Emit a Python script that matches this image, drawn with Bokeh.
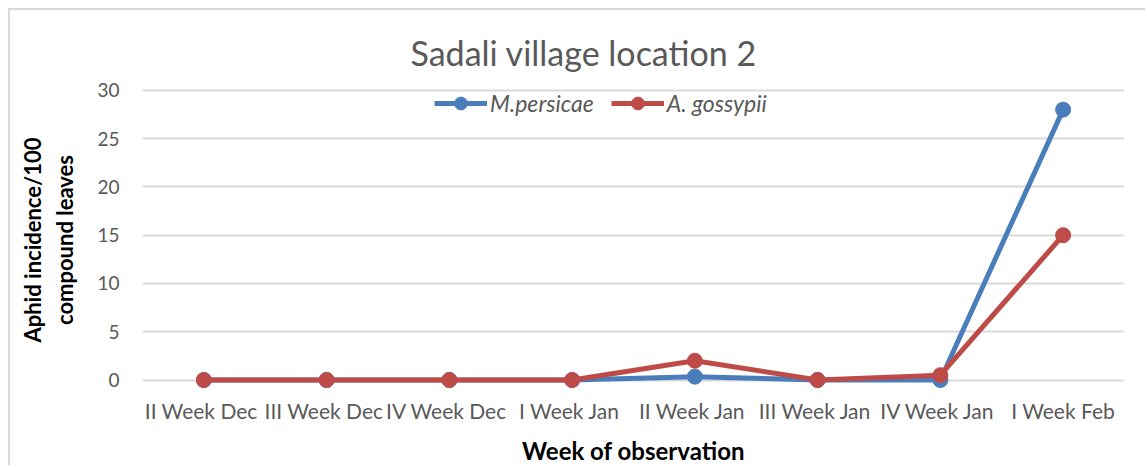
from bokeh.plotting import figure
from bokeh.models import Range1d, FixedTicker, Legend, LegendItem
from bokeh.embed import file_html
from bokeh.resources import INLINE

weeks = ["II  Week Dec", "III  Week Dec", "IV  Week Dec", "I  Week Jan",
         "II  Week Jan", "III  Week Jan", "IV  Week Jan", "I Week Feb"]
m_persicae = [0, 0, 0, 0, 0.35, 0, 0, 28]
a_gossypii = [0, 0, 0, 0, 2, 0, 0.5, 15]
y_ticks = [0, 5, 10, 15, 20, 25, 30]

FONT = "Lato"
GREY = "#595959"
BLUE = "#4a7ebb"
RED = "#be4b48"

p = figure(width=1137, height=457, x_range=weeks, y_range=Range1d(-1.5, 30.5),
           output_backend="svg", toolbar_location=None,
           min_border_left=132, min_border_right=23, min_border_top=75,
           min_border_bottom=72)
p.styles = {"margin": "8px 0 0 8px",
            "border-left": "2px solid #d9d9d9",
            "border-top": "2px solid #d9d9d9"}
p.outline_line_color = None
p.background_fill_color = "white"
p.border_fill_color = "white"

p.title.text = "Sadali village location 2"
p.title.align = "left"
p.title.offset = 268
p.title.standoff = 26
p.title.text_font = FONT
p.title.text_font_style = "normal"
p.title.text_font_size = "34px"
p.title.text_color = GREY

p.yaxis.ticker = FixedTicker(ticks=y_ticks)
p.yaxis.axis_line_color = None
p.yaxis.major_tick_line_color = None
p.yaxis.major_tick_out = 0
p.yaxis.minor_tick_line_color = None
p.yaxis.major_label_text_font = FONT
p.yaxis.major_label_text_font_size = "19px"
p.yaxis.major_label_text_color = GREY
p.yaxis.major_label_standoff = 23
p.yaxis.axis_label = "Aphid incidence/100\ncompound leaves"
p.yaxis.axis_label_text_font = FONT
p.yaxis.axis_label_text_font_style = "bold"
p.yaxis.axis_label_text_font_size = "22px"
p.yaxis.axis_label_text_color = "black"
p.yaxis.axis_label_standoff = 16

p.xaxis.axis_line_color = None
p.xaxis.major_tick_line_color = None
p.xaxis.major_tick_out = 0
p.xaxis.minor_tick_line_color = None
p.xaxis.major_label_text_font = FONT
p.xaxis.major_label_text_font_size = "21px"
p.xaxis.major_label_text_color = GREY
p.xaxis.major_label_standoff = 3
p.xaxis.axis_label = "Week of observation"
p.xaxis.axis_label_text_font = FONT
p.xaxis.axis_label_text_font_style = "bold"
p.xaxis.axis_label_text_font_size = "24px"
p.xaxis.axis_label_text_color = "black"
p.xaxis.axis_label_standoff = 10

p.xgrid.grid_line_color = None
p.ygrid.grid_line_color = "#d9d9d9"
p.ygrid.grid_line_width = 2

l1 = p.line(weeks, m_persicae, line_color=BLUE, line_width=5)
c1 = p.scatter(weeks, m_persicae, size=15, fill_color=BLUE, line_color=BLUE)
l2 = p.line(weeks, a_gossypii, line_color=RED, line_width=5)
c2 = p.scatter(weeks, a_gossypii, size=15, fill_color=RED, line_color=RED)

legend = Legend(items=[LegendItem(label="M.persicae", renderers=[l1, c1]),
                       LegendItem(label="A. gossypii", renderers=[l2, c2])],
                location=(292, 275), orientation="horizontal")
legend.background_fill_alpha = 0
legend.border_line_color = None
legend.label_text_font = FONT
legend.label_text_font_style = "italic"
legend.label_text_font_size = "23px"
legend.label_text_color = GREY
legend.glyph_width = 53
legend.glyph_height = 32
legend.label_standoff = 3
legend.spacing = 17
legend.margin = 0
legend.padding = 4
p.add_layout(legend, "center")

open("out.html", "w").write(file_html(p, INLINE))
